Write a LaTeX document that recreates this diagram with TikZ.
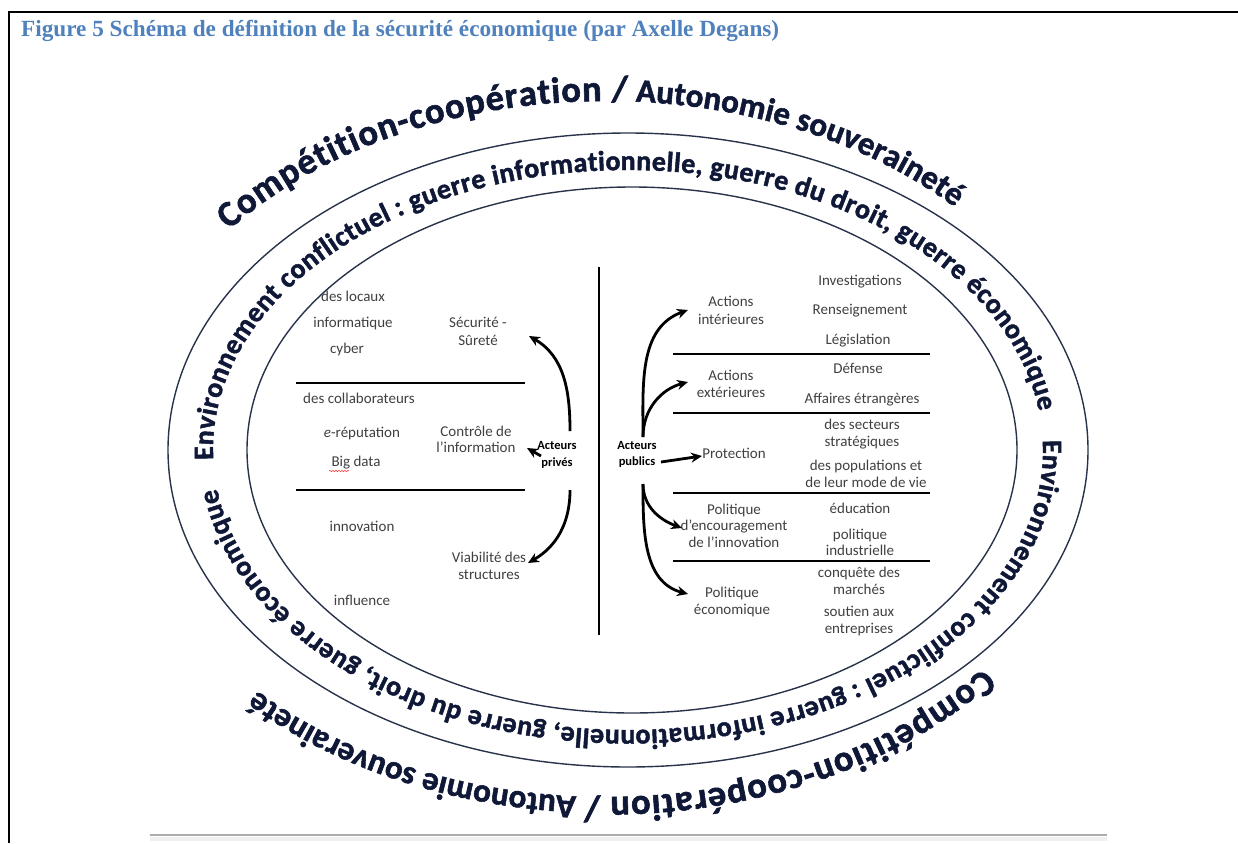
\documentclass[tikz,border=0pt]{standalone}
\usepackage{fontspec}
\setmainfont{Carlito}
\newfontfamily\titlefont{Liberation Serif}
\newfontfamily\ringfont{Carlito}[BoldFeatures={FakeBold=1.6}]
\usetikzlibrary{arrows.meta,decorations.text,decorations.pathmorphing}
\definecolor{titleblue}{RGB}{79,129,189}
\definecolor{ringc}{RGB}{16,24,56}
\definecolor{ellc}{RGB}{40,50,75}
\definecolor{txt}{RGB}{64,64,64}
\begin{document}
\begin{tikzpicture}[x=1pt,y=1pt,
  lbl/.style={font=\fontsize{15}{16}\selectfont, text=txt, inner sep=0pt, anchor=base},
  actor/.style={font=\bfseries\fontsize{12.5}{14}\selectfont, text=black, inner sep=0pt, anchor=base},
  sepline/.style={line width=2pt, black},
  arr/.style={line width=2.8pt, -{Stealth[length=11pt,width=10pt]}},
  ring/.style={line width=1.4pt, ellc},
  ringtext/.style 2 args={decorate, decoration={text along path, text align={fit to path},
     text={|\ringfont\bfseries\fontsize{#1}{#1}\selectfont\color{ringc}|#2}}}
]
\useasboundingbox (0,0) rectangle (1238,-843);

% frame and title
\draw[line width=2.5pt] (1238,-12) -- (9,-12) -- (9,-843);
\node[anchor=base west, inner sep=0pt, font=\titlefont\bfseries\fontsize{23.2}{26}\selectfont, text=titleblue] (title) at (21,-37) {Figure 5 Schéma de définition de la sécurité économique (par Axelle Degans)};
\fill[gray!12] (150,-836.5) rectangle (1107,-841);
\draw[gray!65, line width=1.5pt] (150,-835) -- (1107,-835);

% ellipses
\draw[ring] (632,-450) ellipse [x radius=385, y radius=263];
\draw[ring] (628,-450) ellipse [x radius=460, y radius=317];

% outer ring text (top and rotated copy)
\path[ringtext={36.5}{Compétition-coopération /}] (606,-449) ++(141:485 and 348) arc[start angle=141, end angle=87.5, x radius=485, y radius=348];
\path[ringtext={33}{Autonomie souveraineté}] (606,-449) ++(86.5:485 and 348) arc[start angle=86.5, end angle=44, x radius=485, y radius=348];
\path[ringtext={36.5}{Compétition-coopération /}] (606,-449) ++(-39:485 and 348) arc[start angle=-39, end angle=-92.5, x radius=485, y radius=348];
\path[ringtext={33}{Autonomie souveraineté}] (606,-449) ++(-93.5:485 and 348) arc[start angle=-93.5, end angle=-136, x radius=485, y radius=348];

% middle ring text (top and rotated copy)
\path[ringtext={28}{Environnement conflictuel : guerre informationnelle, guerre du droit, guerre économique}] (628,-450) ++(182:415 and 280) arc[start angle=182, end angle=8, x radius=415, y radius=280];
\path[ringtext={28}{Environnement conflictuel : guerre informationnelle, guerre du droit, guerre économique}] (628,-450) ++(2:415 and 280) arc[start angle=2, end angle=-172, x radius=415, y radius=280];

% divider lines
\draw[sepline] (599,-267) -- (599,-635);
\draw[sepline] (296,-383) -- (525,-383);
\draw[sepline] (296,-490) -- (525,-490);
\draw[sepline] (673,-354) -- (930,-354);
\draw[sepline] (673,-413) -- (930,-413);
\draw[sepline] (673,-493) -- (930,-493);
\draw[sepline] (673,-561) -- (930,-561);

% left side labels
\node[lbl] (l1) at (353,-301) {des locaux};
\node[lbl] (l2) at (353,-327) {informatique};
\node[lbl] (l3) at (347,-353) {cyber};
\node[lbl] (l4) at (478,-327) {Sécurité -};
\node[lbl] (l5) at (478,-345) {Sûreté};
\node[lbl] (l6) at (359,-403) {des collaborateurs};
\node[lbl] (l7) at (362,-437) {\textit{e}-réputation};
\node[lbl] (l8) at (476,-436) {Contrôle de};
\node[lbl] (l9) at (476,-452) {l’information};
\node[lbl] (l10) at (356,-466) {Big data};
\node[lbl] (l11) at (362,-531) {innovation};
\node[lbl] (l12) at (489,-562) {Viabilité des};
\node[lbl] (l13) at (489,-579) {structures};
\node[lbl] (l14) at (362,-605) {influence};
\node[actor] (pv1) at (557,-449) {Acteurs};
\node[actor] (pv2) at (557,-466) {privés};
\coordinate (bigA) at (329,-471);
\coordinate (bigB) at (349,-471);
\draw[red!75, line width=0.6pt, decorate, decoration={snake, amplitude=0.7pt, segment length=3pt}] (bigA) -- (bigB);

% right side labels
\node[lbl] (r1) at (860,-285) {Investigations};
\node[lbl] (r2) at (860,-314) {Renseignement};
\node[lbl] (r3) at (858,-344) {Législation};
\node[lbl] (a1) at (731,-306) {Actions};
\node[lbl] (a2) at (731,-324) {intérieures};
\node[lbl] (a3) at (731,-380) {Actions};
\node[lbl] (a4) at (731,-397) {extérieures};
\node[lbl] (r4) at (858,-373) {Défense};
\node[lbl] (r5) at (862,-403) {Affaires étrangères};
\node[lbl] (r6) at (862,-429) {des secteurs};
\node[lbl] (r7) at (862,-446) {stratégiques};
\node[lbl] (r8) at (866,-470) {des populations et};
\node[lbl] (r9) at (866,-487) {de leur mode de vie};
\node[lbl] (a5) at (734,-458) {Protection};
\node[lbl] (a6) at (734,-514) {Politique};
\node[lbl] (a7) at (734,-530) {d’encouragement};
\node[lbl] (a8) at (734,-547) {de l’innovation};
\node[lbl] (r10) at (860,-513) {éducation};
\node[lbl] (r11) at (860,-539) {politique};
\node[lbl] (r12) at (860,-555) {industrielle};
\node[lbl] (r13) at (859,-577) {conquête des};
\node[lbl] (r14) at (859,-594) {marchés};
\node[lbl] (r15) at (859,-616) {soutien aux};
\node[lbl] (r16) at (859,-633) {entreprises};
\node[lbl] (a9) at (732,-597) {Politique};
\node[lbl] (a10) at (732,-614) {économique};
\node[actor] (pu1) at (637,-449) {Acteurs};
\node[actor] (pu2) at (637,-465) {publics};

% arrows: private actors
\coordinate (pvUp) at (570,-431);
\coordinate (pvMid) at (541,-456);
\coordinate (pvDn) at (570,-490);
\coordinate (toSec) at (529,-336);
\coordinate (toCtl) at (527,-448);
\coordinate (toVia) at (528,-563);
\draw[arr] (pvUp) to[out=90,in=-30] (toSec);
\draw[arr] (pvMid) -- (toCtl);
\draw[arr] (pvDn) to[out=-90,in=30] (toVia);

% arrows: public actors
\coordinate (puUp) at (643,-437);
\coordinate (puMid) at (661,-462);
\coordinate (puDn) at (643,-484);
\coordinate (toInt) at (688,-310);
\coordinate (toExt) at (688,-382);
\coordinate (toPro) at (702,-456);
\coordinate (toEnc) at (682,-528);
\coordinate (toEco) at (688,-594);
\draw[arr] (puUp) to[out=90,in=200] (toInt);
\draw[arr] (puUp) to[out=90,in=195] (toExt);
\draw[arr] (puMid) -- (toPro);
\draw[arr] (puDn) to[out=-90,in=160] (toEnc);
\draw[arr] (puDn) to[out=-90,in=165] (toEco);
\end{tikzpicture}
\end{document}
